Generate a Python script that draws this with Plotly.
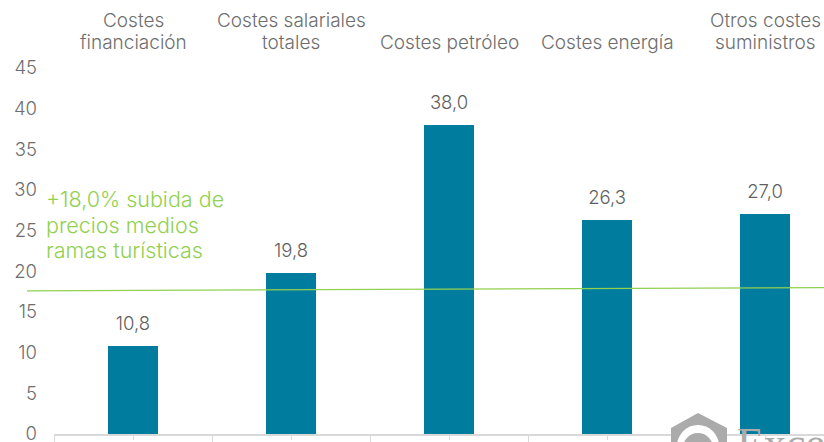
import plotly.graph_objects as go

W, H = 824, 442
L, R, T, B = 27, 0, 68, 0
PLOT_BOTTOM = 434
AXIS_LEFT = 54

category_lines = [["Costes", "financiación"], ["Costes salariales", "totales"], ["Costes petróleo"], ["Costes energía"], ["Otros costes", "suministros"]]
values = [10.8, 19.8, 38.0, 26.3, 27.0]
value_labels = ["10,8", "19,8", "38,0", "26,3", "27,0"]
line_x = [-0.671, 4.373]
line_y = [17.6, 18.0]
boundaries = [-0.5, 0.5, 1.5, 2.5, 3.5, 4.5]
centres = [0, 1, 2, 3, 4]
y_ticks = [0, 5, 10, 15, 20, 25, 30, 35, 40, 45]
note_lines = ["+18,0% subida de", "precios medios", "ramas turísticas"]
logo_text = "Exceltur"

TEXT = "#6e6e6e"
FONT = "Inter"
LOGO = "#ABABAB"
x_range = [-0.5, 4.373]
domain = [(AXIS_LEFT - L) / (W - L), 1]


def xp(px):
    return (px - L) / (W - L)


def yp(py):
    return (H - B - py) / (H - T - B)


def circle(cx, cy, r, color):
    return dict(type="circle", xref="paper", yref="paper", x0=xp(cx - r), x1=xp(cx + r), y0=yp(cy + r), y1=yp(cy - r),
                fillcolor=color, line_width=0, layer="above")


hex_pts = [(698, 413), (727, 428), (727, 450), (671, 450), (671, 428)]
hex_path = "M " + " L ".join(f"{xp(a):.5f},{yp(b):.5f}" for a, b in hex_pts) + " Z"

fig = go.Figure()
fig.add_trace(go.Bar(x=centres, y=values, width=0.315, marker=dict(color="#007C9E", line_width=0),
                     xaxis="x", yaxis="y", showlegend=False))
fig.add_trace(go.Scatter(x=centres, y=values, mode="markers+text", text=value_labels, textposition="top center",
                         marker=dict(size=17, opacity=0), textfont=dict(size=18.5, color="#5f5f5f", family=FONT, weight=300),
                         xaxis="x2", yaxis="y", showlegend=False, cliponaxis=False))
fig.add_trace(go.Scatter(x=line_x, y=line_y, mode="lines", line=dict(color="#92D050", width=1.3),
                         xaxis="x3", yaxis="y", showlegend=False, cliponaxis=False))

annotations = [
    dict(text=t, xref="paper", yref="paper", x=xp(45), xanchor="left", align="left",
         y=yp(199 + 25.5 * i), yanchor="middle", showarrow=False, borderpad=0,
         font=dict(size=21.5, color="#92D050", family=FONT, weight=300))
    for i, t in enumerate(note_lines)
]
for c, lines in zip(centres, category_lines):
    first = 43 - 22 * (len(lines) - 1)
    for i, t in enumerate(lines):
        annotations.append(dict(text=t, xref="x", yref="paper", x=c, xanchor="center", y=yp(first + 22 * i), yanchor="middle",
                                showarrow=False, borderpad=0, font=dict(size=19, color=TEXT, family=FONT, weight=300)))
annotations.append(dict(text=logo_text, xref="paper", yref="paper", x=xp(736), y=yp(418), xanchor="left", yanchor="top",
                        showarrow=False, borderpad=0, font=dict(size=44, color=LOGO, family="Liberation Serif")))

y_domain = [(H - B - PLOT_BOTTOM) / (H - T - B), 1]

fig.update_layout(
    width=W, height=H, autosize=False, paper_bgcolor="white", plot_bgcolor="rgba(0,0,0,0)",
    margin=dict(l=L, r=R, t=T, b=B, autoexpand=False), bargap=0,
    xaxis=dict(domain=domain, range=x_range, showticklabels=False, ticks="", showline=False,
               showgrid=False, zeroline=False),
    xaxis2=dict(overlaying="x", side="bottom", anchor="y", domain=domain, range=x_range, tickvals=boundaries, showticklabels=False,
                ticks="outside", ticklen=8, tickcolor="#D9D9D9", tickwidth=1, showline=True, linecolor="#D9D9D9",
                linewidth=1.5, showgrid=False, zeroline=False,
                minor=dict(tickvals=centres, ticks="outside", ticklen=4, tickcolor="#D9D9D9", tickwidth=1, showgrid=False)),
    xaxis3=dict(domain=[0, 1], range=[-0.671, 4.373], visible=False, anchor="y"),
    yaxis=dict(range=[0, 45], anchor="x", domain=y_domain, tickvals=y_ticks, showgrid=False, zeroline=False, showline=False, ticks="",
               ticklabelstandoff=16, ticklabeloverflow="allow", tickfont=dict(size=18.5, color=TEXT, family=FONT, weight=300)),
    annotations=annotations,
    shapes=[
        dict(type="path", path=hex_path, xref="paper", yref="paper", fillcolor=LOGO, line_width=0, layer="above"),
        circle(698, 446, 21, "white"),
        circle(698, 448, 15, LOGO),
    ],
)
fig.write_html("out.html", config={"displayModeBar": False},
               post_script="document.body.style.margin='0';document.documentElement.style.overflow='hidden';")
